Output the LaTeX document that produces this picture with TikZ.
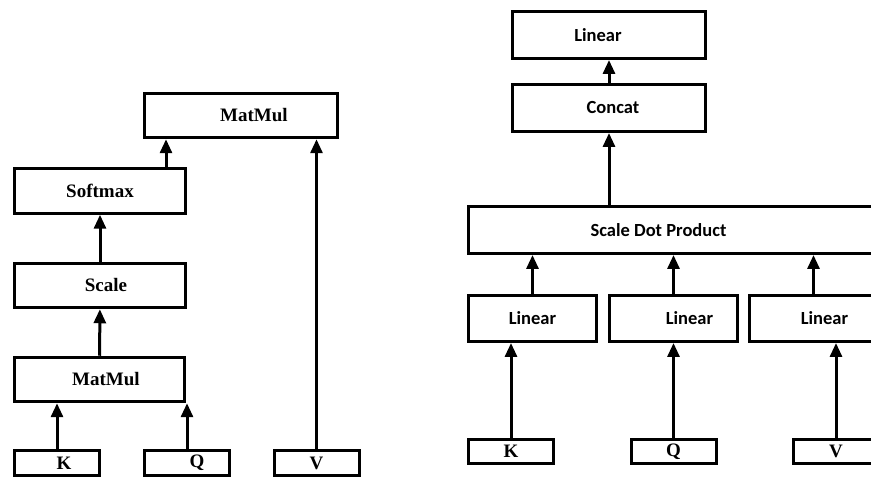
\documentclass[tikz,border=0pt]{standalone}
\usepackage{fontspec}
\setmainfont{Liberation Serif}
\newfontfamily\calibrifont{Carlito}
\usetikzlibrary{arrows.meta}
% text placed off centre: #1 is twice the shift
\newcommand{\offtext}[2]{\hspace*{#1}#2}

\begin{document}
\begin{tikzpicture}[x=1pt, y=-1pt,
    block/.style ={draw, line width=3pt, inner sep=0pt, minimum height=44.5pt,
                   font=\fontsize{19}{22}\selectfont\bfseries},
    cblock/.style ={block, minimum height=47pt, font=\fontsize{18.5}{21}\selectfont\calibrifont\bfseries},
    input/.style ={block, minimum width=85pt, minimum height=25pt},
    arr/.style ={line width=3pt, -{Triangle[width=12pt,length=14pt]}}]
   \useasboundingbox (0,0) rectangle (871,478);
   \clip (0,0) rectangle (871,478);
   % scaled dot product attention
   \node[block, minimum width=193pt] (mmtop) at (241,115.5) {\offtext{26pt}{MatMul}};
   \node[block, minimum width=171pt] (sm) at (100,191) {Softmax};
   \node[block, minimum width=171pt] (sc) at (100,285.5) {\offtext{12pt}{Scale}};
   \node[block, minimum width=170pt] (mm) at (99.5,379.5) {\offtext{13pt}{MatMul}};
   \node[input] (k) at (57,463) {\offtext{14pt}{K}};
   \node[input] (q) at (187,463) {\offtext{20pt}{Q}};
   \node[input] (v) at (316.5,463) {V};
   \draw[arr] (k) to (k |- mm.south);
   \draw[arr] (q) to (q |- mm.south);
   \draw[arr] (v) to (v |- mmtop.south);
   \draw[arr] (mm) to (sc);
   \draw[arr] (sc) to (sm);
   \draw[arr] ([xshift=23pt]mmtop.south west |- sm.north) to ([xshift=23pt]mmtop.south west);
   % multi-head attention
   \node[cblock, minimum width=193pt] (lin) at (609,35) {\offtext{-22pt}{Linear}};
   \node[cblock, minimum width=193pt] (cc) at (609,108) {\offtext{8pt}{Concat}};
   \node[cblock, minimum width=410pt] (sdp) at (673.5,230) {\offtext{-30pt}{Scale Dot Product}};
   \node[cblock, minimum width=128pt, minimum height=46pt] (lk) at (532.5,318.5) {Linear};
   \node[cblock, minimum width=128pt, minimum height=46pt] (lq) at (673.5,318.5) {\offtext{32pt}{Linear}};
   \node[cblock, minimum width=128pt, minimum height=46pt] (lv) at (813.5,318.5) {\offtext{22pt}{Linear}};
   \node[input, minimum height=24pt] (rk) at (511,451.5) {K};
   \node[input, minimum height=24pt] (rq) at (673.5,451.5) {Q};
   \node[input, minimum height=24pt] (rv) at (836,451.5) {V};
   \draw[arr] (cc) to (lin);
   \draw[arr] (sdp.north -| cc) to (cc);
   \draw[arr] (lk) to (lk |- sdp.south);
   \draw[arr] (lq) to (lq |- sdp.south);
   \draw[arr] (lv) to (lv |- sdp.south);
   \draw[arr] (rk) to (rk |- lk.south);
   \draw[arr] (rq) to (lq);
   \draw[arr] (rv) to (rv |- lv.south);
\end{tikzpicture}
\end{document}
